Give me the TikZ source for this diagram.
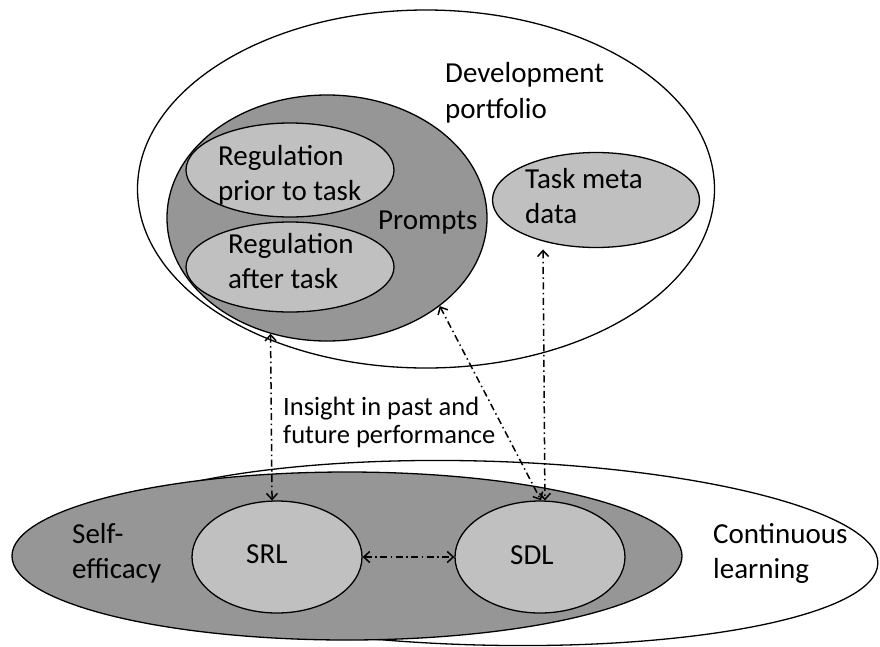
\documentclass[tikz,border=0pt]{standalone}
\usepackage{fontspec}
\setmainfont{Carlito}
\usetikzlibrary{arrows.meta,shapes.geometric}
\definecolor{darkfill}{RGB}{150,150,150}
\definecolor{lightfill}{RGB}{192,192,192}
\begin{document}
\begin{tikzpicture}[x=1pt,y=-1pt,
  ell/.style 2 args={ellipse, draw=black, line width=1.3pt, inner sep=0pt,
    minimum width=#1pt, minimum height=#2pt},
  lbl/.style={anchor=base west, align=left, inner sep=0pt,
    font=\fontsize{29}{35}\selectfont},
  conn/.style={line width=1.5pt, dash pattern=on 7pt off 3.5pt on 1.5pt off 3.5pt,
    {Straight Barb[length=6pt,width=11pt]}-{Straight Barb[length=6pt,width=11pt]}}]
\useasboundingbox (0,0) rectangle (880,646);
% top group
\node[ell={577}{358}, fill=white] (portfolio) at (426,189) {};
\node[ell={320}{246}, fill=darkfill] (prompts) at (327,218) {};
\node[ell={208}{94}, fill=lightfill] (prior) at (290,170) {};
\node[ell={208}{90}, fill=lightfill] (after) at (290,267) {};
\node[ell={207}{95}, fill=lightfill] (meta) at (596,200) {};
% bottom group
\node[ell={796}{184}, fill=white, rotate=-1.5] (continuous) at (480,553) {};
\node[ell={670}{168}, fill=darkfill] (efficacy) at (347,556) {};
\node[ell={170}{112}, fill=lightfill] (srl) at (277,557) {};
\node[ell={170}{112}, fill=lightfill] (sdl) at (540,557) {};
% labels (anchor = baseline of last line)
\node[lbl, font=\fontsize{29}{36}\selectfont] (tportfolio) at (445,118) {Development\\portfolio};
\node[lbl] (tprior) at (218,200) {Regulation\\prior to task};
\node[lbl] (tafter) at (228,288) {Regulation\\after task};
\node[lbl] (tprompts) at (378,229) {Prompts};
\node[lbl] (tmeta) at (525,223) {Task meta\\data};
\node[lbl, font=\fontsize{26.5}{28}\selectfont] (tinsight) at (283,443) {Insight in past and\\future performance};
\node[lbl] (tefficacy) at (72,578) {Self-\\efficacy};
\node[lbl] (tsrl) at (246,563) {SRL};
\node[lbl] (tsdl) at (510,564) {SDL};
\node[lbl] (tcontinuous) at (713,578) {Continuous\\learning};
% connectors
\draw[conn] (prompts.244.5) -- (srl.95);
\draw[conn] (prompts.322.3) -- (sdl.89);
\draw[conn, shorten <=8pt] (meta.218.7) -- (sdl.85);
\draw[conn] (srl.east) -- (sdl.west);
\end{tikzpicture}
\end{document}
